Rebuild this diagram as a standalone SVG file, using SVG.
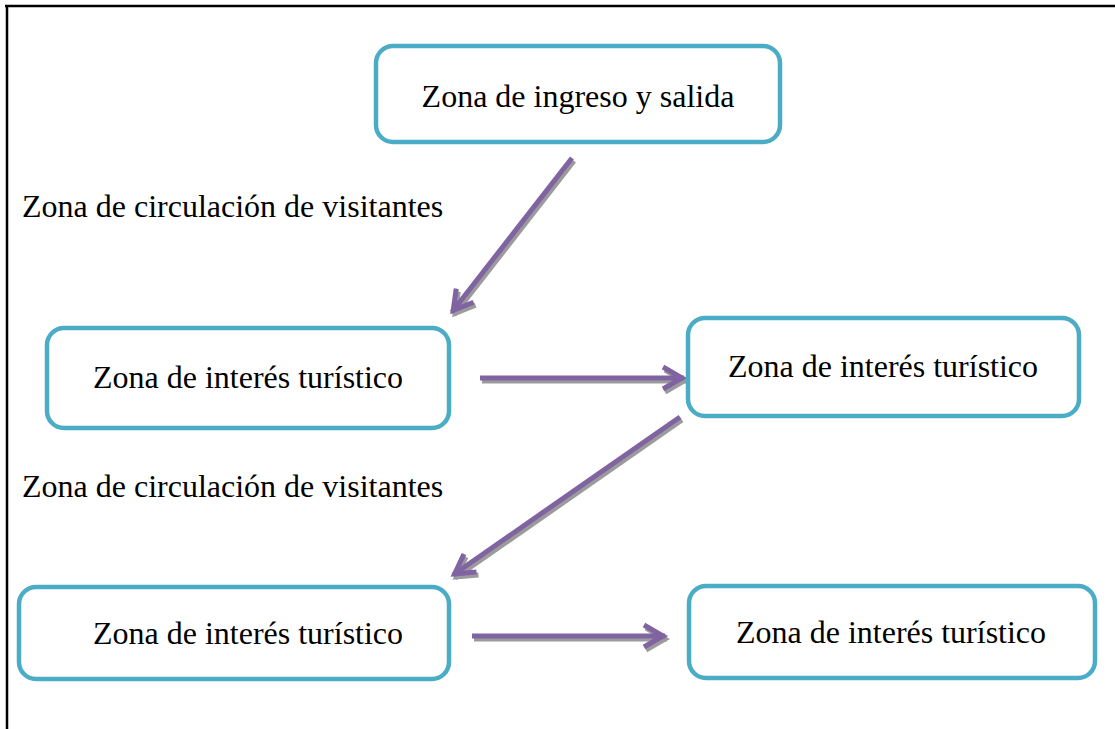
<svg xmlns="http://www.w3.org/2000/svg" width="1115" height="729" viewBox="0 0 1115 729">
  <style>
    .box { fill: #ffffff; stroke: #4BACC6; stroke-width: 4.5; }
    .lbl { font-family: 'Liberation Serif', 'DejaVu Serif', serif; font-size: 32px; fill: #000000; }
    .mid { text-anchor: middle; }
    .arrow { fill: none; stroke: #8064A2; stroke-width: 5; }
    .shadow { fill: none; stroke: #9B9B9B; stroke-width: 5; }
  </style>
  <defs>
    <marker id="headP" markerUnits="userSpaceOnUse" orient="auto" markerWidth="40" markerHeight="40" refX="2" refY="0" viewBox="-30 -20 40 40" overflow="visible">
      <path d="M-19,-11 L0,0 L-19,11" fill="none" stroke="#8064A2" stroke-width="5" stroke-linejoin="miter"/>
    </marker>
    <marker id="headS" markerUnits="userSpaceOnUse" orient="auto" markerWidth="40" markerHeight="40" refX="2" refY="0" viewBox="-30 -20 40 40" overflow="visible">
      <path d="M-19,-11 L0,0 L-19,11" fill="none" stroke="#9B9B9B" stroke-width="5" stroke-linejoin="miter"/>
    </marker>
  </defs>
  <rect width="1115" height="729" fill="#ffffff"/>
  <g id="frame">
    <line x1="5" y1="6" x2="1115" y2="6" stroke="#000" stroke-width="2.5"/>
    <line x1="7" y1="5" x2="7" y2="729" stroke="#000" stroke-width="2.5"/>
  </g>
  <g id="connectors">
    <g transform="translate(2,3)">
      <path class="shadow" d="M572,158 L452,312" marker-end="url(#headS)"/>
      <path class="shadow" d="M480,378 L684,378" marker-end="url(#headS)"/>
      <path class="shadow" d="M680,417 L453,575" marker-end="url(#headS)"/>
      <path class="shadow" d="M472,636 L665,636" marker-end="url(#headS)"/>
    </g>
    <path class="arrow" d="M572,158 L452,312" marker-end="url(#headP)"/>
    <path class="arrow" d="M480,378 L684,378" marker-end="url(#headP)"/>
    <path class="arrow" d="M680,417 L453,575" marker-end="url(#headP)"/>
    <path class="arrow" d="M472,636 L665,636" marker-end="url(#headP)"/>
  </g>
  <g id="node-ingreso">
    <rect class="box" x="376" y="46" width="404" height="96" rx="17"/>
    <text class="lbl mid" x="578" y="107" font-family="Liberation Serif, serif">Zona de ingreso y salida</text>
  </g>
  <g id="label-circ-1">
    <text class="lbl" x="22" y="217" font-family="Liberation Serif, serif">Zona de circulación de visitantes</text>
  </g>
  <g id="node-interes-1">
    <rect class="box" x="47" y="328" width="402" height="100" rx="17"/>
    <text class="lbl mid" x="248" y="388" font-family="Liberation Serif, serif">Zona de interés turístico</text>
  </g>
  <g id="node-interes-2">
    <rect class="box" x="688" y="318" width="391" height="98" rx="17"/>
    <text class="lbl mid" x="883" y="377" font-family="Liberation Serif, serif">Zona de interés turístico</text>
  </g>
  <g id="label-circ-2">
    <text class="lbl" x="22" y="497" font-family="Liberation Serif, serif">Zona de circulación de visitantes</text>
  </g>
  <g id="node-interes-3">
    <rect class="box" x="19" y="587" width="430" height="92" rx="17"/>
    <text class="lbl mid" x="248" y="644" font-family="Liberation Serif, serif">Zona de interés turístico</text>
  </g>
  <g id="node-interes-4">
    <rect class="box" x="689" y="586" width="406" height="92" rx="17"/>
    <text class="lbl mid" x="891" y="643" font-family="Liberation Serif, serif">Zona de interés turístico</text>
  </g>
</svg>
